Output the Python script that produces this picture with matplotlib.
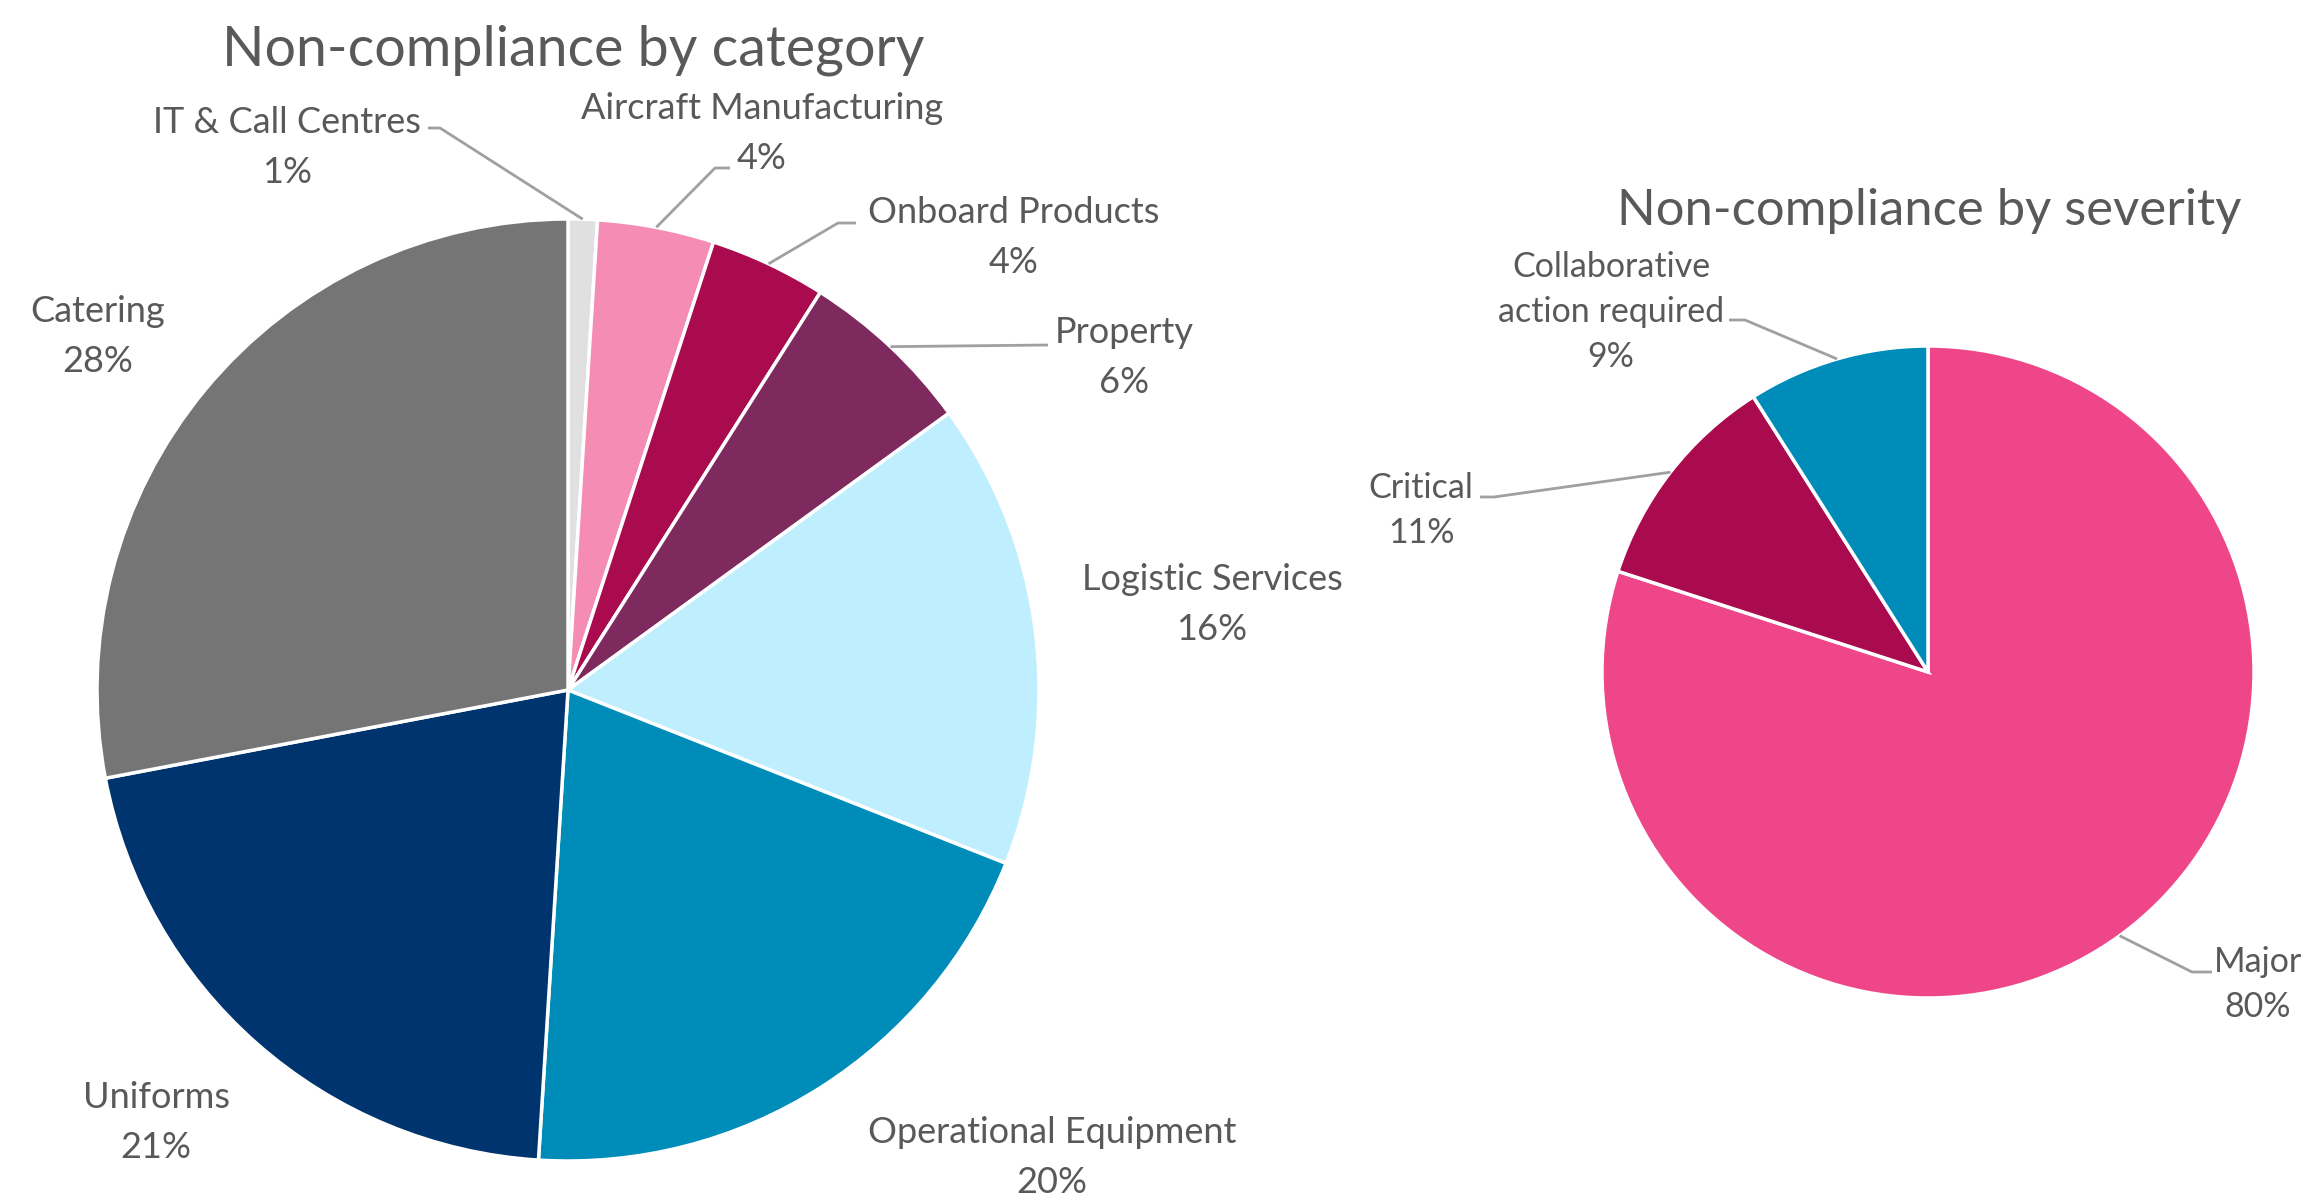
import matplotlib
matplotlib.use("Agg")
from matplotlib import pyplot as plt
import numpy as np

W, H = 2306, 1197

# left chart data
cat_names = ["IT & Call Centres", "Aircraft Manufacturing", "Onboard Products", "Property",
             "Logistic Services", "Operational Equipment", "Uniforms", "Catering"]
cat_share = [1, 4, 4, 6, 16, 20, 21, 28]
cat_colors = ["#E0E0E0", "#F48CB4", "#A90B4E", "#7E2A5E",
              "#BFEEFF", "#008CB8", "#00346E", "#757575"]

# right chart data
sev_names = ["Major", "Critical", "Collaborative\naction required"]
sev_share = [80, 11, 9]
sev_colors = ["#EF468A", "#A90B4E", "#008CB8"]

TEXT = "#595959"
LEADER = "#A0A0A0"
FONT = ["Lato", "DejaVu Sans"]

plt.rcParams['font.family'] = FONT

fig = plt.figure(figsize=(W / 100, H / 100), dpi=100)
ax = fig.add_axes([0, 0, 1, 1])


def Y(y):
    return H - y


def draw_pie(center, radius, shares, colors):
    ax.pie(shares, colors=colors, startangle=90, counterclock=False,
           center=(center[0], Y(center[1])), radius=radius, frame=True,
           wedgeprops=dict(edgecolor="white", linewidth=2.5))
    # mid angle of every wedge on the edge, in pixel coords (y down)
    cum = np.cumsum([0] + list(shares)) / sum(shares)
    mids = 90 - 360 * (cum[:-1] + cum[1:]) / 2
    return [(center[0] + radius * np.cos(np.radians(a)),
             center[1] - radius * np.sin(np.radians(a))) for a in mids]


def label(x, y, lines, size, gap=50):
    for i, t in enumerate(lines):
        ax.text(x, Y(y + i * gap), t, ha="center", va="baseline",
                fontsize=size, color=TEXT)


def leader(start, pts):
    xs = [start[0]] + [p[0] for p in pts]
    ys = [Y(start[1])] + [Y(p[1]) for p in pts]
    ax.plot(xs, ys, color=LEADER, lw=2.0, solid_capstyle="butt")


# ---- left pie
edge_l = draw_pie((568, 690), 471, cat_share, cat_colors)
ax.text(573, Y(65), "Non-compliance by category", ha="center", va="baseline",
        fontsize=40, color=TEXT)

cat_pos = [(287, 133), (762, 119), (1014, 223), (1124, 343),
           (1212, 590), (1052, 1143), (156, 1108), (98, 322)]
cat_leaders = {0: [(440, 128), (428, 128)],
               1: [(715, 168), (730, 168)],
               2: [(838, 223), (856, 223)],
               3: [(1048, 345)]}
for i, (n, s) in enumerate(zip(cat_names, cat_share)):
    x, y = cat_pos[i]
    label(x, y, [n, f"{s}%"], 26)
    if i in cat_leaders:
        leader(edge_l[i], cat_leaders[i])

# ---- right pie
edge_r = draw_pie((1928, 672), 326, sev_share, sev_colors)
ax.text(1929, Y(225), "Non-compliance by severity", ha="center", va="baseline",
        fontsize=36.5, color=TEXT)

sev_pos = [(2258, 972), (1421, 498), (1611, 277)]
sev_leaders = [[(2192, 972), (2212, 972)],
               [(1494, 497), (1480, 497)],
               [(1745, 320), (1729, 320)]]
for i, (n, s) in enumerate(zip(sev_names, sev_share)):
    x, y = sev_pos[i]
    parts = n.split("\n")
    label(x, y, parts + [f"{s}%"], 24.5, gap=45)
    leader(edge_r[i], sev_leaders[i])

ax.set_xlim(0, W)
ax.set_ylim(0, H)
ax.set_aspect("equal")
ax.axis("off")

fig.savefig("out.png", dpi=100, facecolor="white")
